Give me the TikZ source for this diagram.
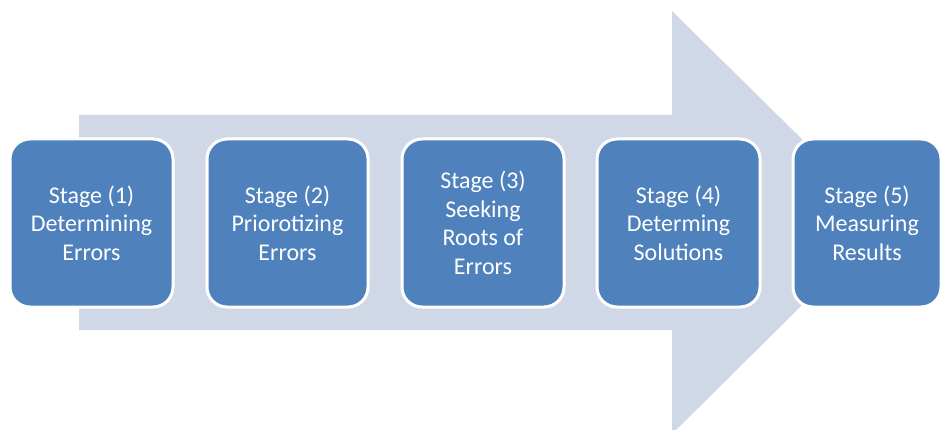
\documentclass[tikz,border=0pt]{standalone}
\usepackage{fontspec}
\setmainfont{Carlito}
\definecolor{arrowfill}{HTML}{D0D8E8}
\definecolor{boxfill}{HTML}{4F81BD}
\begin{document}
\begin{tikzpicture}[x=1pt,y=1pt,
  stagebox/.style={draw=white, line width=3pt, fill=boxfill, rounded corners=20pt,
    minimum height=168pt, inner sep=0pt, text=white, align=center,
    font=\fontsize{24}{28.5}\selectfont}]
\useasboundingbox (0,0) rectangle (942,429);
\clip (0,0) rectangle (942,429);
\fill[arrowfill] (79,314) -- (672,314) -- (672,418) -- (886,207) -- (672,-5) -- (672,99) -- (79,99) -- cycle;
\node[stagebox, minimum width=163pt] (s1) at (91.5,206) {Stage (1)\\Determining\\Errors};
\node[stagebox, minimum width=161pt] (s2) at (287.5,206) {Stage (2)\\Priorotizing\\Errors};
\node[stagebox, minimum width=162pt] (s3) at (483,206) {Stage (3)\\Seeking\\Roots of\\Errors};
\node[stagebox, minimum width=163pt] (s4) at (678.5,206) {Stage (4)\\Determing\\Solutions};
\node[stagebox, minimum width=148pt] (s5) at (867,206) {Stage (5)\\Measuring\\Results};
\end{tikzpicture}
\end{document}
